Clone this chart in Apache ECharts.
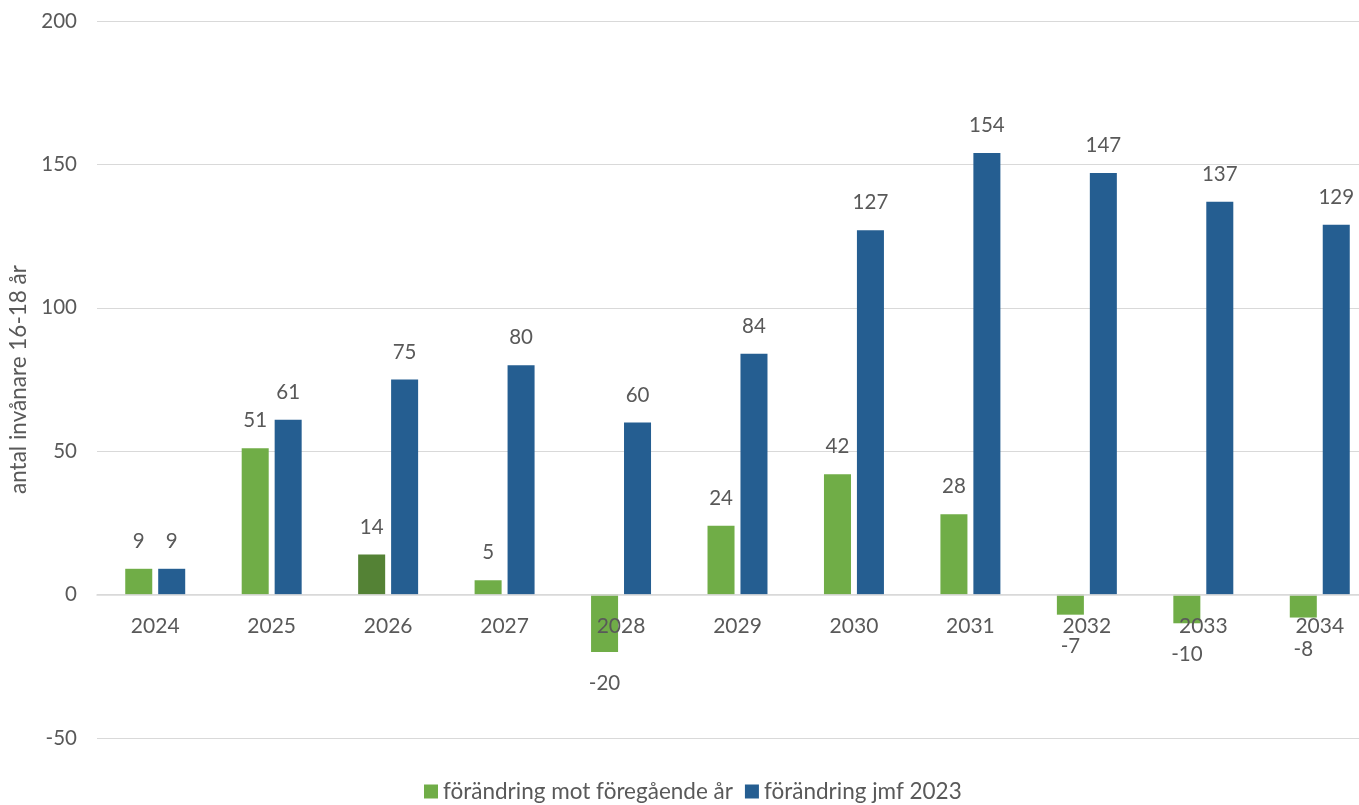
<!DOCTYPE html>
<html><head><meta charset="utf-8">
<script src="https://cdn.jsdelivr.net/npm/echarts@6/dist/echarts.min.js"></script>
<style>html,body{margin:0;padding:0;background:#fff}#c{width:1359px;height:805px}</style>
</head><body><div id="c"></div>
<script>
const categories = ['2024','2025','2026','2027','2028','2029','2030','2031','2032','2033','2034'];
const changePrevYear = [9, 51, 14, 5, -20, 24, 42, 28, -7, -10, -8];
const changeVs2023 = [9, 61, 75, 80, 60, 84, 127, 154, 147, 137, 129];
const seriesNames = ['förändring mot föregående år', 'förändring jmf 2023'];
const yAxisName = 'antal invånare 16-18 år';
const highlightIndex = 2;
const Y_MIN = -50, Y_MAX = 200, Y_STEP = 50;

const FONT = 'Lato, "Open Sans", sans-serif';
const TXT = '#595959';
const GREEN = '#70AD47', DARKGREEN = '#548235', BLUE = '#255E91';

const W = 1359, H = 805;
const GRID = { left: 97, right: -19, top: 21, bottom: 67 };
const plotH = H - GRID.top - GRID.bottom;
const zeroOffset = -plotH * (0 - Y_MIN) / (Y_MAX - Y_MIN);

function mkData(arr, color, altIdx, altColor) {
  return arr.map((v, i) => ({
    value: v,
    itemStyle: { color: (i === altIdx ? altColor : color) },
    label: v < 0 ? { position: 'bottom', distance: 21 } : { position: 'top', distance: 17 }
  }));
}

const chart = echarts.init(document.getElementById('c'), null, { renderer: 'canvas' });
chart.setOption({
  animation: false,
  textStyle: { fontFamily: FONT },
  grid: Object.assign({ containLabel: false, outerBoundsMode: 'none' }, GRID),
  legend: {
    left: 419, top: 775, itemWidth: 14, itemHeight: 14, itemGap: 12,
    icon: 'rect',
    textStyle: { color: TXT, fontSize: 22.5, fontFamily: FONT },
    data: seriesNames
  },
  xAxis: {
    type: 'category', data: categories,
    offset: zeroOffset,
    axisLine: { show: true, onZero: false, lineStyle: { color: '#D9D9D9', width: 1.5 } },
    axisTick: { show: false },
    axisLabel: { color: TXT, fontSize: 21, margin: 21, fontFamily: FONT },
    z: 10
  },
  yAxis: {
    type: 'value', min: Y_MIN, max: Y_MAX, interval: Y_STEP,
    name: yAxisName, nameLocation: 'middle', nameGap: 57, nameRotate: 90,
    nameTextStyle: { color: TXT, fontSize: 22.5, fontFamily: FONT },
    axisLine: { show: false }, axisTick: { show: false },
    axisLabel: { color: TXT, fontSize: 20.5, margin: 20, fontFamily: FONT },
    splitLine: { lineStyle: { color: '#D9D9D9', width: 1.2 } }
  },
  series: [
    {
      name: seriesNames[0], type: 'bar', data: mkData(changePrevYear, GREEN, highlightIndex, DARKGREEN),
      itemStyle: { color: GREEN },
      barGap: '22%', barCategoryGap: '48.5%',
      label: { show: true, color: TXT, fontSize: 20.5, fontFamily: FONT }
    },
    {
      name: seriesNames[1], type: 'bar', data: mkData(changeVs2023, BLUE, -1, BLUE),
      itemStyle: { color: BLUE },
      barGap: '22%', barCategoryGap: '48.5%',
      label: { show: true, color: TXT, fontSize: 20.5, fontFamily: FONT }
    }
  ]
});
</script></body></html>
